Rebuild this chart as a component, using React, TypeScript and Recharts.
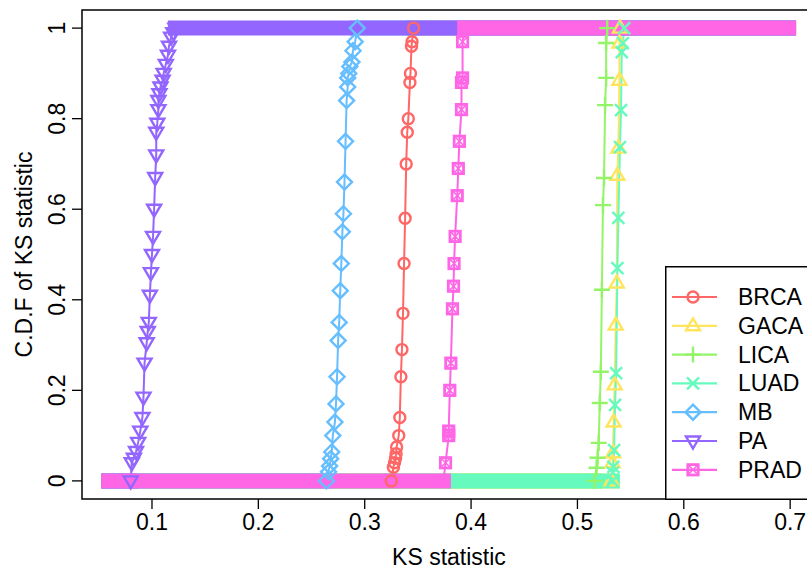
import { LineChart, Line, XAxis, YAxis, ReferenceArea } from 'recharts'

// ── Data ──────────────────────────────────────────────────────────────────────

const GROUPS = ['BRCA', 'GACA', 'LICA', 'LUAD', 'MB', 'PA', 'PRAD']

// pooled range of the KS grid: every CDF is flat at 0 before its rise and at 1 after
const KS_MIN = 0.0595
const KS_MAX = 0.6985

const BRCA_KS = [0.325, 0.327, 0.328, 0.329, 0.3295, 0.33, 0.332, 0.333, 0.334, 0.335, 0.336, 0.337, 0.338, 0.339, 0.34, 0.341, 0.3425, 0.343, 0.344, 0.3445, 0.346]
const BRCA_CDF = [0, 0.03, 0.04, 0.05, 0.06, 0.075, 0.1, 0.14, 0.23, 0.29, 0.37, 0.48, 0.58, 0.7, 0.77, 0.8, 0.88, 0.9, 0.96, 0.97, 1]

const GACA_KS = [0.532, 0.533, 0.5335, 0.534, 0.535, 0.536, 0.537, 0.5375, 0.5385, 0.5395, 0.5395, 0.54]
const GACA_CDF = [0, 0.04, 0.062, 0.13, 0.212, 0.344, 0.437, 0.675, 0.735, 0.885, 0.967, 1]

const LICA_KS = [0.516, 0.518, 0.519, 0.52, 0.521, 0.522, 0.523, 0.524, 0.525, 0.526, 0.527, 0.527, 0.528]
const LICA_CDF = [0, 0.029, 0.051, 0.084, 0.172, 0.241, 0.422, 0.609, 0.669, 0.83, 0.89, 0.967, 1]

const LUAD_KS = [0.533, 0.5333, 0.5338, 0.5345, 0.5354, 0.5364, 0.5376, 0.5385, 0.54, 0.541, 0.5417, 0.5427, 0.544]
const LUAD_CDF = [0, 0.018, 0.031, 0.068, 0.168, 0.238, 0.47, 0.581, 0.737, 0.819, 0.947, 0.967, 1]

const MB_KS = [0.264, 0.266, 0.267, 0.268, 0.269, 0.27, 0.272, 0.273, 0.274, 0.275, 0.276, 0.277, 0.278, 0.279, 0.28, 0.281, 0.282, 0.283, 0.284, 0.284, 0.285, 0.286, 0.288, 0.289, 0.291, 0.293]
const MB_CDF = [0, 0.02, 0.033, 0.049, 0.064, 0.1, 0.13, 0.17, 0.23, 0.31, 0.35, 0.42, 0.48, 0.55, 0.59, 0.66, 0.75, 0.84, 0.87, 0.89, 0.9, 0.915, 0.925, 0.95, 0.97, 1]

const PA_KS = [0.08, 0.081, 0.083, 0.085, 0.087, 0.089, 0.091, 0.092, 0.093, 0.095, 0.096, 0.097, 0.098, 0.099, 0.1, 0.101, 0.102, 0.103, 0.104, 0.104, 0.105, 0.106, 0.106, 0.107, 0.108, 0.11, 0.111, 0.113, 0.115, 0.116, 0.118, 0.12, 0.122]
const PA_CDF = [0, 0.04, 0.05, 0.065, 0.085, 0.11, 0.14, 0.185, 0.26, 0.305, 0.33, 0.35, 0.41, 0.46, 0.5, 0.54, 0.6, 0.67, 0.72, 0.77, 0.79, 0.82, 0.84, 0.855, 0.87, 0.885, 0.9, 0.92, 0.94, 0.96, 0.98, 0.99, 1]

const PRAD_KS = [0.374, 0.376, 0.379, 0.379, 0.38, 0.381, 0.3825, 0.3835, 0.384, 0.385, 0.387, 0.388, 0.389, 0.391, 0.391, 0.392, 0.392, 0.394]
const PRAD_CDF = [0, 0.04, 0.1, 0.11, 0.2, 0.26, 0.38, 0.43, 0.48, 0.54, 0.63, 0.69, 0.75, 0.82, 0.88, 0.89, 0.97, 1]

const X_TICKS = [0.1, 0.2, 0.3, 0.4, 0.5, 0.6, 0.7]
const Y_TICKS = [0, 0.2, 0.4, 0.6, 0.8, 1]

// ── Styles ────────────────────────────────────────────────────────────────────

const FONT = '"Liberation Sans", Arial, Helvetica, sans-serif'
const X_DOMAIN: [number, number] = [0.0342, 0.7243]
const Y_DOMAIN: [number, number] = [-0.04, 1.04]

type Shape = 'circle' | 'triUp' | 'plus' | 'cross' | 'diamond' | 'triDown' | 'boxX'

const STYLE: Record<string, { color: string; shape: Shape }> = {
  BRCA: { color: '#FF6666', shape: 'circle' },
  GACA: { color: '#FFE45E', shape: 'triUp' },
  LICA: { color: '#92F466', shape: 'plus' },
  LUAD: { color: '#66FABE', shape: 'cross' },
  MB:   { color: '#66BEFF', shape: 'diamond' },
  PA:   { color: '#9266FF', shape: 'triDown' },
  PRAD: { color: '#FF66E6', shape: 'boxX' },
}

const SOURCE: Record<string, [number[], number[]]> = {
  BRCA: [BRCA_KS, BRCA_CDF],
  GACA: [GACA_KS, GACA_CDF],
  LICA: [LICA_KS, LICA_CDF],
  LUAD: [LUAD_KS, LUAD_CDF],
  MB:   [MB_KS, MB_CDF],
  PA:   [PA_KS, PA_CDF],
  PRAD: [PRAD_KS, PRAD_CDF],
}

// ── Markers (R pch 1..7) ──────────────────────────────────────────────────────

function Marker({ shape, cx, cy, color }: { shape: Shape; cx: number; cy: number; color: string }) {
  const s = { fill: 'none', stroke: color, strokeWidth: 2.4 }
  switch (shape) {
    case 'circle':
      return <circle cx={cx} cy={cy} r={5.5} {...s} />
    case 'triUp':
      return <path d={`M${cx},${cy - 7.5}L${cx + 7},${cy + 4.5}L${cx - 7},${cy + 4.5}Z`} {...s} />
    case 'plus':
      return <path d={`M${cx - 8},${cy}H${cx + 8}M${cx},${cy - 8}V${cy + 8}`} {...s} />
    case 'cross':
      return <path d={`M${cx - 6},${cy - 6}L${cx + 6},${cy + 6}M${cx - 6},${cy + 6}L${cx + 6},${cy - 6}`} {...s} />
    case 'diamond':
      return <path d={`M${cx},${cy - 7.5}L${cx + 7.5},${cy}L${cx},${cy + 7.5}L${cx - 7.5},${cy}Z`} {...s} />
    case 'triDown':
      return <path d={`M${cx},${cy + 7.5}L${cx + 7},${cy - 4.5}L${cx - 7},${cy - 4.5}Z`} {...s} />
    case 'boxX':
      return (
        <g>
          <rect x={cx - 5.2} y={cy - 5.2} width={10.4} height={10.4} fill="none" stroke={color} strokeWidth={2.8} />
          <path d={`M${cx - 4},${cy - 4}L${cx + 4},${cy + 4}M${cx - 4},${cy + 4}L${cx + 4},${cy - 4}`} stroke={color} strokeWidth={1.6} />
        </g>
      )
  }
}

// ── Axis ticks / titles ───────────────────────────────────────────────────────

// eslint-disable-next-line @typescript-eslint/no-explicit-any
const XTick = (props: any) => {
  const { x, y, payload } = props
  return (
    <text x={x} y={y + 21} textAnchor="middle" fontSize={23} fontFamily={FONT} fill="#000">
      {payload.value}
    </text>
  )
}

// eslint-disable-next-line @typescript-eslint/no-explicit-any
const YTick = (props: any) => {
  const { x, y, payload } = props
  const bx = x - 7
  return (
    <text x={bx} y={y} transform={`rotate(-90, ${bx}, ${y})`} textAnchor="middle" fontSize={23} fontFamily={FONT} fill="#000">
      {payload.value}
    </text>
  )
}

// eslint-disable-next-line @typescript-eslint/no-explicit-any
const XTitle = (props: any) => {
  const vb = props.viewBox ?? { x: 82, width: 734 }
  return (
    <text x={vb.x + vb.width / 2} y={565} textAnchor="middle" fontSize={23} fontFamily={FONT} fill="#000">
      KS statistic
    </text>
  )
}

// eslint-disable-next-line @typescript-eslint/no-explicit-any
const YTitle = (props: any) => {
  const vb = props.viewBox ?? { y: 10, height: 489 }
  const cy = vb.y + vb.height / 2
  return (
    <text x={32} y={cy} transform={`rotate(-90, 32, ${cy})`} textAnchor="middle" fontSize={23} fontFamily={FONT} fill="#000">
      C.D.F of KS statistic
    </text>
  )
}

// ── Legend (R legend box, bottom right) ───────────────────────────────────────

function LegendBox() {
  return (
    <svg
      width={170}
      height={236}
      style={{ position: 'absolute', left: 665, top: 266, overflow: 'visible' }}
    >
      <rect x={0.75} y={0.75} width={150} height={232.5} fill="#fff" stroke="#000" strokeWidth={1.5} />
      {GROUPS.map((g, i) => {
        const cy = 31 + i * 28.8
        const { color, shape } = STYLE[g]
        return (
          <g key={g}>
            <line x1={7} x2={52} y1={cy} y2={cy} stroke={color} strokeWidth={2.2} />
            <Marker shape={shape} cx={28} cy={cy} color={color} />
            <text x={73} y={cy + 8} fontSize={23} fontFamily={FONT} fill="#000">{g}</text>
          </g>
        )
      })}
    </svg>
  )
}

// ── Main ──────────────────────────────────────────────────────────────────────

export default function App() {
  const series = GROUPS.map((g) => {
    const [ks, cdf] = SOURCE[g]
    const pts = ks.map((x, i) => ({ x, y: cdf[i] }))
    return {
      name: g,
      pts,
      low: [{ x: KS_MIN, y: 0 }, { x: ks[0], y: 0 }],
      high: [{ x: ks[ks.length - 1], y: 1 }, { x: KS_MAX, y: 1 }],
    }
  })

  return (
    <div
      style={{
        position: 'fixed', left: 0, top: 0, width: 807, height: 570,
        overflow: 'hidden', background: '#fff', fontFamily: FONT,
      }}
    >
      <LineChart width={820} height={570} margin={{ top: 10, right: 4, bottom: 0, left: 0 }}>
        <XAxis
          type="number"
          dataKey="x"
          domain={X_DOMAIN}
          allowDataOverflow
          ticks={X_TICKS}
          interval={0}
          height={71}
          tickSize={10}
          tickMargin={0}
          axisLine={false}
          tickLine={{ stroke: '#000', strokeWidth: 1.3 }}
          tick={<XTick />}
          label={{ content: XTitle }}
        />
        <YAxis
          type="number"
          dataKey="y"
          domain={Y_DOMAIN}
          allowDataOverflow
          ticks={Y_TICKS}
          interval={0}
          width={82}
          tickSize={10}
          tickMargin={0}
          axisLine={false}
          tickLine={{ stroke: '#000', strokeWidth: 1.3 }}
          tick={<YTick />}
          label={{ content: YTitle }}
        />
        <ReferenceArea
          x1={X_DOMAIN[0]} x2={X_DOMAIN[1]} y1={Y_DOMAIN[0]} y2={Y_DOMAIN[1]}
          fill="none" stroke="#000" strokeWidth={1.5} fillOpacity={0} ifOverflow="visible"
        />
        {series.flatMap((s) => {
          const { color, shape } = STYLE[s.name]
          return [
            <Line
              key={`${s.name}-low`}
              data={s.low}
              dataKey="y"
              stroke={color}
              strokeWidth={15}
              strokeLinecap="square"
              dot={false}
              activeDot={false}
              legendType="none"
              isAnimationActive={false}
            />,
            <Line
              key={`${s.name}-high`}
              data={s.high}
              dataKey="y"
              stroke={color}
              strokeWidth={15}
              strokeLinecap="square"
              dot={false}
              activeDot={false}
              legendType="none"
              isAnimationActive={false}
            />,
            <Line
              key={`${s.name}-pts`}
              data={s.pts}
              dataKey="y"
              stroke={color}
              strokeWidth={2}
              // eslint-disable-next-line @typescript-eslint/no-explicit-any
              dot={(p: any) =>
                p.cx == null || p.cy == null ? (
                  <g key={`${s.name}-d${p.index}`} />
                ) : (
                  <g key={`${s.name}-d${p.index}`}>
                    <Marker shape={shape} cx={p.cx} cy={p.cy} color={color} />
                  </g>
                )
              }
              activeDot={false}
              legendType="none"
              isAnimationActive={false}
            />,
          ]
        })}
      </LineChart>
      <LegendBox />
    </div>
  )
}
